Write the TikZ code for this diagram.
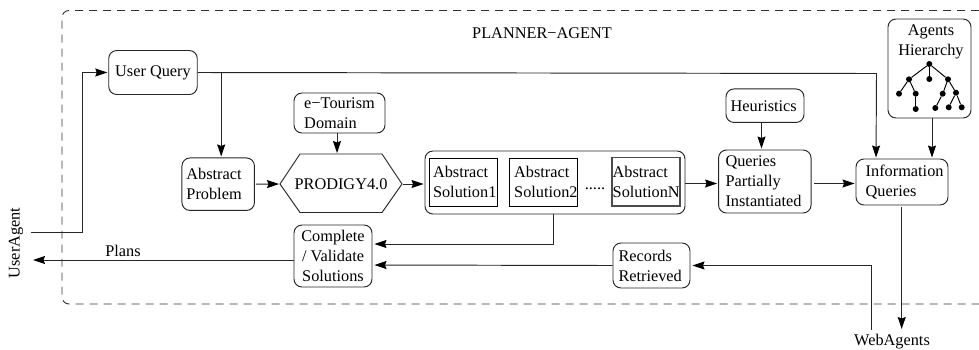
\documentclass[tikz,border=0pt]{standalone}
\usepackage{fontspec}
\setmainfont{Liberation Serif}
\usetikzlibrary{arrows.meta,calc}
\tikzset{
  x=1pt,y=-1pt,
  base/.style={line width=0.95pt,black!85},
  rbox/.style={base,draw,rounded corners=8pt,inner sep=0pt,align=left,text=black,font=\fontsize{16.3}{20}\selectfont},
  sbox/.style={base,draw=black,inner sep=0pt,align=left,text=black,font=\fontsize{16.3}{20}\selectfont},
  lbl/.style={inner sep=0pt,text=black,align=center,font=\fontsize{16.3}{20}\selectfont},
  conn/.style={base,-{Stealth[length=12pt,width=8pt,inset=1.5pt,black]},shorten >=1pt},
  dot/.style={circle,fill=black,inner sep=0pt,minimum size=6pt},
  tedge/.style={line width=0.95pt,black},
}
\begin{document}
\begin{tikzpicture}
\useasboundingbox (0,0) rectangle (979,349);
\fill[white] (0,0) rectangle (979,349);
% frame
\draw[line width=0.9pt,black!80,dash pattern=on 8pt off 6pt,rounded corners=7pt] (979,10.5) -- (62,10.5) -- (62,304) -- (979,304);
\node[lbl] (title) at (542,33) {PLANNER−AGENT};
% boxes
\node[rbox,minimum width=88.5pt,minimum height=44pt] (uq) at (153,72.5) {User Query};
\node[rbox,minimum width=72.5pt,minimum height=52.5pt,text width=63.5pt] (ap) at (218.2,184.2) {Abstract\\Problem};
\node[rbox,minimum width=91pt,minimum height=40pt] (et) at (339.5,113) {e−Tourism\\Domain};
\node[lbl] (prod) at (341,184) {PRODIGY4.0};
\draw[base] (280,184) coordinate (pl) -- (300,154) -- (382,154) -- (402,184) coordinate (pr) -- (382,212.5) -- (300,212.5) -- cycle;
\coordinate (pt) at (337,154);
\node[rbox,minimum width=260pt,minimum height=63pt] (big) at (555,182.5) {};
\node[sbox,minimum width=68pt,minimum height=48.5pt,text width=60pt] (s1) at (463,182.3) {Abstract\\Solution1};
\node[sbox,minimum width=68pt,minimum height=48.5pt,text width=58pt] (s2) at (543.2,182.3) {Abstract\\Solution2};
\node[sbox,minimum width=68pt,minimum height=48.5pt,line width=1.5pt,draw=black!70] (sn) at (646.2,181.5) {Abstract\\SolutionN};
\node[lbl,anchor=base] (dots) at (595,189) {.....};
\node[rbox,minimum width=78pt,minimum height=33.5pt,text width=68.6pt] (he) at (765,105.7) {Heuristics};
\node[rbox,minimum width=92.5pt,minimum height=63pt,text width=78.5pt] (qp) at (764.8,181.5) {Queries\\Partially\\Instantiated};
\node[rbox,minimum width=92pt,minimum height=46pt,text width=72.6pt] (iq) at (902,182) {Information\\Queries};
\node[rbox,minimum width=83pt,minimum height=99pt] (ah) at (929.5,68.5) {};
\node[lbl] (aht) at (931,41.5) {Agents\\Hierarchy};
\node[rbox,minimum width=78pt,minimum height=62pt,align=center] (cv) at (333,256) {Complete\\/ Validate\\Solutions};
\node[rbox,minimum width=77pt,minimum height=45pt,text width=66pt] (rr) at (651.5,265.5) {Records\\Retrieved};
% outside labels
\node[lbl,rotate=90] (ua) at (16,243) {UserAgent};
\node[lbl] (wa) at (892,342) {WebAgents};
\node[lbl] (pl2) at (123,251) {Plans};
% tree
\foreach \n/\px/\py in {r/929.3/64,a/909/79.3,b/929.3/79,c/948/79.3,d/899/93.7,e/915.7/93.7,f/915.7/109,g/942.7/93.7,h/956/92.7,i/935.3/108,j/948.7/107.3,k/961.7/107.3}
  \node[dot] (t\n) at (\px,\py) {};
\foreach \u/\v in {r/a,r/b,r/c,a/d,a/e,e/f,c/g,c/h,g/i,h/j,h/k}
  \draw[tedge] (t\u) -- (t\v);
% free end points
\coordinate (uaout) at (31,232);
\coordinate (uain) at (32,260);
\coordinate (wain) at (901.7,330);
\coordinate (waout) at (871.7,330);
% connectors
\draw[conn] (uaout) -| (82,72.5) -- (uq.west);
\draw[conn] (uq.east -| ap.north) ++(3,0) -- ($(ap.north)+(3,0)$);
\draw[conn] (uq.east) -- (876.5,73.5) -- ($(iq.north west)+(20.5,0)$);
\draw[conn] (ap.east)++(1,0) -- (pl);
\draw[conn] (et.south -| pt) -- (pt);
\draw[conn] (pr) ++(1,0) -- ($(big.west)+(0,1.5)$);
\draw[conn] ($(big.east)+(0,1)$) -- ($(qp.west)+(0,2)$);
\draw[conn] (he.south -| 761.5,0) -- ($(qp.north)+(-3.3,0)$);
\draw[conn] ($(qp.east)+(2.5,2)$) -- ($(iq.west)+(0,1.5)$);
\draw[conn] (ah.south -| 932,0) -- ($(iq.north)+(30,0)$);
\draw[conn] ($(iq.south)+(-0.3,1.5)$) -- (wain);
\draw[conn] (big.south -| 553.5,0) |- ($(cv.east)+(1,-12)$);
\draw[conn] (rr.west) -- ($(cv.east)+(1,9)$);
\draw[conn] (waout) |- ($(rr.east)+(1,0)$);
\draw[conn] (cv.west |- uain) -- (uain);
\end{tikzpicture}
\end{document}
